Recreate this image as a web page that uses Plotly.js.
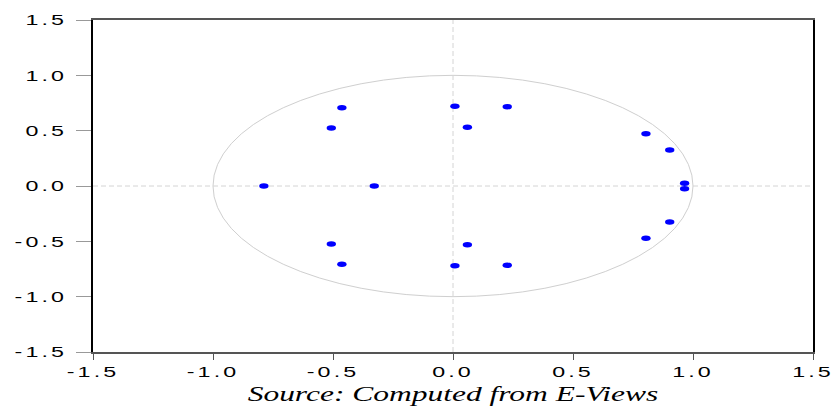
<!DOCTYPE html>
<html>
<head>
<meta charset="utf-8">
<script src="https://cdn.plot.ly/plotly-3.0.1.min.js"></script>
<style>
html,body{margin:0;padding:0;background:#fff;}
#chart{width:837px;height:407px;}
</style>
</head>
<body>
<div id="chart"></div>
<script>
const rootReal = [-0.463, -0.463, -0.507, -0.507, 0.008, 0.008, 0.226, 0.226, 0.060, 0.060,
                  0.804, 0.804, 0.903, 0.903, 0.965, 0.965, -0.328, -0.788];
const rootImag = [0.708, -0.708, 0.524, -0.524, 0.720, -0.720, 0.717, -0.717, 0.530, -0.530,
                  0.473, -0.473, 0.325, -0.325, 0.024, -0.024, 0.000, 0.000];
const tickVals = [-1.5, -1.0, -0.5, 0.0, 0.5, 1.0, 1.5];
const tickText = ["-1.5", "-1.0", "-0.5", "0.0", "0.5", "1.0", "1.5"];
const sourceText = "Source: Computed from E-Views";

const trace = {
  x: rootReal, y: rootImag, type: 'scatter', mode: 'markers',
  marker: {color: '#0000ff', size: 5.5, line: {width: 0}},
  hoverinfo: 'x+y'
};

const tickFont = {family: 'Liberation Sans, Arial, sans-serif', size: 15, color: '#000'};

const layout = {
  width: 837, height: 407,
  margin: {l: 93, r: 24, t: 20, b: 55, pad: 0},
  paper_bgcolor: '#fff', plot_bgcolor: '#fff',
  showlegend: false,
  xaxis: {
    range: [-1.5, 1.5], tickvals: tickVals, ticktext: tickText,
    showgrid: false, zeroline: false,
    showline: true, linecolor: '#555', linewidth: 2, mirror: true,
    ticks: 'outside', ticklen: 6, tickcolor: '#555', tickwidth: 1,
    tickfont: tickFont, ticklabelstandoff: -1
  },
  yaxis: {
    range: [-1.5, 1.5], tickvals: tickVals, ticktext: tickText,
    showgrid: false, zeroline: false,
    showline: true, linecolor: '#000', linewidth: 2, mirror: true,
    ticks: 'outside', ticklen: 15, tickcolor: '#999', tickwidth: 1,
    tickfont: tickFont, ticklabelstandoff: 6
  },
  shapes: [
    {type: 'circle', xref: 'x', yref: 'y', x0: -1, x1: 1, y0: -1, y1: 1,
     line: {color: '#cfcfcf', width: 1}, layer: 'below'},
    {type: 'line', xref: 'x', yref: 'y', x0: 0, x1: 0, y0: -1.5, y1: 1.5,
     line: {color: '#d4d4d4', width: 1, dash: '5px,3px'}, layer: 'below'},
    {type: 'line', xref: 'x', yref: 'y', x0: -1.5, x1: 1.5, y0: 0, y1: 0,
     line: {color: '#d4d4d4', width: 1, dash: '5px,3px'}, layer: 'below'}
  ],
  annotations: [{
    text: sourceText, xref: 'paper', yref: 'paper', x: 0.5, y: -0.126,
    xanchor: 'center', yanchor: 'middle', showarrow: false,
    font: {family: 'Liberation Serif, Times New Roman, serif', size: 21, style: 'italic', color: '#000'}
  }]
};

function stretchText(sel, s, ls) {
  document.querySelectorAll(sel).forEach(t => {
    const x = parseFloat(t.getAttribute('x')) || 0;
    const tr = t.getAttribute('transform') || '';
    if (ls) t.style.letterSpacing = ls + 'px';
    t.setAttribute('transform', tr + ' translate(' + x + ',0) scale(' + s + ',1) translate(' + (-x) + ',0)');
  });
}

Plotly.newPlot('chart', [trace], layout, {displayModeBar: false, staticPlot: true}).then(() => {
  stretchText('.xtick text', 1.55, 2);
  stretchText('.ytick text', 1.55, 2);
  stretchText('.annotation-text', 1.5, 0);
  document.querySelectorAll('.scatterlayer .point').forEach(p => {
    const tr = p.getAttribute('transform') || '';
    p.setAttribute('transform', tr + ' scale(1.7,1)');
  });
});
</script>
</body>
</html>
